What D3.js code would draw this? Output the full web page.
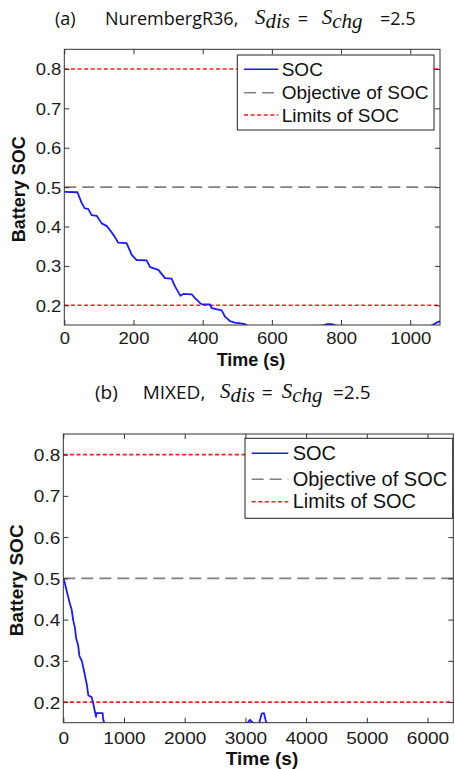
<!DOCTYPE html>
<html>
<head>
<meta charset="utf-8">
<script src="https://cdn.jsdelivr.net/npm/d3@7"></script>
<style>
  html, body { margin: 0; padding: 0; background: #fff; }
  svg { display: block; }
</style>
</head>
<body>
<svg id="chart" width="455" height="769"></svg>
<script>
// ---- data ----
const socA_t = [0, 38, 50, 59, 69, 79, 94, 108, 123, 132, 145, 156, 180, 195, 209, 238, 248, 272, 291, 310, 320, 336, 344, 368, 378, 392, 397, 421, 426, 445, 455, 464, 479, 493, 519, 530, 600, 700, 750, 758, 773, 790, 900, 1000, 1060, 1068, 1081, 1086];
const socA_v = [0.488, 0.487, 0.46, 0.446, 0.445, 0.429, 0.427, 0.408, 0.401, 0.391, 0.375, 0.359, 0.358, 0.328, 0.315, 0.314, 0.297, 0.290, 0.269, 0.268, 0.248, 0.224, 0.229, 0.228, 0.218, 0.206, 0.203, 0.202, 0.193, 0.189, 0.187, 0.172, 0.160, 0.156, 0.153, 0.148, 0.142, 0.145, 0.149, 0.152, 0.152, 0.147, 0.140, 0.142, 0.148, 0.152, 0.158, 0.159];

const socB_t = [0, 12, 55, 82, 110, 137, 165, 192, 209, 220, 231, 247, 264, 286, 303, 341, 385, 395, 412, 440, 467, 494, 522, 539, 545, 560, 649, 655, 676, 700, 1000, 2000, 2900, 3000, 3048, 3076, 3120, 3200, 3229, 3268, 3306, 3340, 3400, 4000, 5000, 6000, 6425];
const socB_v = [0.498, 0.496, 0.470, 0.454, 0.438, 0.425, 0.397, 0.380, 0.357, 0.350, 0.345, 0.335, 0.313, 0.305, 0.301, 0.276, 0.244, 0.235, 0.216, 0.214, 0.212, 0.196, 0.176, 0.164, 0.173, 0.173, 0.173, 0.160, 0.148, 0.140, 0.130, 0.130, 0.140, 0.146, 0.152, 0.157, 0.150, 0.146, 0.150, 0.172, 0.173, 0.152, 0.140, 0.130, 0.130, 0.130, 0.130];

const socObjective = 0.5;
const socLimits = [0.2, 0.8];
const yTicks = [0.2, 0.3, 0.4, 0.5, 0.6, 0.7, 0.8];
const xTicksA = [0, 200, 400, 600, 800, 1000];
const xTicksB = [0, 1000, 2000, 3000, 4000, 5000, 6000];
const legendLabels = ["SOC", "Objective of SOC", "Limits of SOC"];

const svg = d3.select("#chart");
const HS = 1.12; // horizontal stretch of tick labels as seen in the reference

const panels = [
  { id: "a", t: socA_t, v: socA_v, xMax: 1086, xTicks: xTicksA,
    box: { l: 64.3, r: 440, t: 49.3, b: 325 },
    tickFont: 16.5, labelFont: 18, yLabelX: 24.5, xLabelX: 251, xLabelY: 366, tickBase: 19.5,
    legend: { x: 237.3, y: 55, w: 196.7, h: 75, rows: [69.3, 92.7, 115], s0: 244, s1: 278.3, tx: 281.7, font: 19 },
    title: { y: 25, font: 18, p: "(a)", px: 55, name: "NurembergR36,", nx: 105, s1: 255, eq: 297.7, s2: 321.7, val: 380 } },
  { id: "b", t: socB_t, v: socB_v, xMax: 6425, xTicks: xTicksB,
    box: { l: 63.3, r: 453.3, t: 434, b: 722.7 },
    tickFont: 17, labelFont: 19, yLabelX: 22.5, xLabelX: 262, xLabelY: 765, tickBase: 21,
    legend: { x: 245, y: 438.3, w: 207.7, h: 80, rows: [453.3, 479.3, 501.7], s0: 251.7, s1: 288.3, tx: 292.7, font: 20 },
    title: { y: 399, font: 19, p: "(b)", px: 95, name: "MIXED,", nx: 142.7, s1: 220, eq: 261.7, s2: 281.7, val: 333 } }
];

panels.forEach(P => {
  const B = P.box;
  const x = d3.scaleLinear().domain([0, P.xMax]).range([B.l, B.r]);
  const y = d3.scaleLinear().domain([0.15, 0.85]).range([B.b, B.t]);
  const g = svg.append("g");

  g.append("clipPath").attr("id", "clip-" + P.id)
    .append("rect").attr("x", B.l).attr("y", B.t).attr("width", B.r - B.l).attr("height", B.b - B.t);

  const plot = g.append("g").attr("clip-path", `url(#clip-${P.id})`);

  // limit lines
  socLimits.forEach(L => {
    plot.append("line").attr("x1", B.l).attr("x2", B.r).attr("y1", y(L)).attr("y2", y(L))
      .attr("stroke", "#ff1a1a").attr("stroke-width", 1.6).attr("stroke-dasharray", "4,2.6");
  });
  // objective
  plot.append("line").attr("x1", B.l).attr("x2", B.r).attr("y1", y(socObjective)).attr("y2", y(socObjective))
    .attr("stroke", "#808080").attr("stroke-width", 1.6).attr("stroke-dasharray", "12,6");

  // SOC line
  const pts = P.t.map((t, i) => [t, P.v[i]]);
  plot.append("path").datum(pts)
    .attr("fill", "none").attr("stroke", "#1a1aff").attr("stroke-width", 1.8)
    .attr("stroke-linejoin", "round")
    .attr("d", d3.line().x(d => x(d[0])).y(d => y(d[1])));

  // axes (inner ticks, box)
  const tickColor = "#333";
  const xAxis = g.append("g").attr("transform", `translate(0,${B.b})`)
    .call(d3.axisBottom(x).tickValues(P.xTicks).tickSize(-5).tickPadding(0).tickFormat(d3.format("d")));
  xAxis.selectAll("text").attr("y", P.tickBase / 1).attr("dy", 0)
    .attr("transform", `scale(${HS},1)`)
    .style("font-family", "Liberation Sans, Arial, sans-serif").style("font-size", P.tickFont + "px").attr("fill", "#1a1a1a");
  const xAxisTop = g.append("g").attr("transform", `translate(0,${B.t})`)
    .call(d3.axisTop(x).tickValues(P.xTicks).tickSize(-5).tickFormat(""));
  const yAxis = g.append("g").attr("transform", `translate(${B.l},0)`)
    .call(d3.axisLeft(y).tickValues(yTicks).tickSize(-5).tickPadding(0).tickFormat(d3.format(".1f")));
  yAxis.selectAll("text").attr("x", -3 / HS).attr("dy", "0.36em")
    .attr("transform", `scale(${HS},1)`)
    .style("font-family", "Liberation Sans, Arial, sans-serif").style("font-size", P.tickFont + "px").attr("fill", "#1a1a1a");
  const yAxisR = g.append("g").attr("transform", `translate(${B.r},0)`)
    .call(d3.axisRight(y).tickValues(yTicks).tickSize(-5).tickFormat(""));
  [xAxis, xAxisTop, yAxis, yAxisR].forEach(a => {
    a.select(".domain").remove();
    a.selectAll(".tick line").attr("stroke", tickColor);
  });
  g.append("rect").attr("x", B.l).attr("y", B.t).attr("width", B.r - B.l).attr("height", B.b - B.t)
    .attr("fill", "none").attr("stroke", "#333").attr("stroke-width", 1);

  // axis labels
  g.append("text").attr("x", P.xLabelX).attr("y", P.xLabelY).attr("text-anchor", "middle")
    .style("font-family", "Liberation Sans, Arial, sans-serif").style("font-weight", "bold")
    .style("font-size", P.labelFont + "px").attr("fill", "#111").text("Time (s)");
  g.append("text").attr("transform", `translate(${P.yLabelX},${(B.t + B.b) / 2 + 2}) rotate(-90)`)
    .attr("text-anchor", "middle")
    .style("font-family", "Liberation Sans, Arial, sans-serif").style("font-weight", "bold")
    .style("font-size", P.labelFont + "px").attr("fill", "#111").text("Battery SOC");

  // legend
  const Lg = P.legend;
  const leg = g.append("g");
  leg.append("rect").attr("x", Lg.x).attr("y", Lg.y).attr("width", Lg.w).attr("height", Lg.h)
    .attr("fill", "#fff").attr("stroke", "#222").attr("stroke-width", 1);
  const styles = [
    { c: "#1a1aff", d: null, w: 1.5 },
    { c: "#808080", d: "12,6", w: 1.5 },
    { c: "#ff1a1a", d: "4,2.6", w: 1.5 }
  ];
  legendLabels.forEach((lab, i) => {
    const ry = Lg.rows[i];
    const ln = leg.append("line").attr("x1", Lg.s0).attr("x2", Lg.s1).attr("y1", ry).attr("y2", ry)
      .attr("stroke", styles[i].c).attr("stroke-width", styles[i].w);
    if (styles[i].d) ln.attr("stroke-dasharray", styles[i].d);
    leg.append("text").attr("x", Lg.tx).attr("y", ry + 6.5)
      .style("font-family", "Liberation Sans, Arial, sans-serif").style("font-size", Lg.font + "px")
      .attr("fill", "#111").text(lab);
  });

  // title
  const T = P.title;
  const sans = "Open Sans, sans-serif";
  const serif = "Liberation Serif, Times New Roman, serif";
  g.append("text").attr("x", T.px).attr("y", T.y).style("font-family", sans).style("font-size", T.font + "px").attr("fill", "#111").text(T.p);
  g.append("text").attr("x", T.nx).attr("y", T.y).style("font-family", sans).style("font-size", T.font + "px").attr("fill", "#111").text(T.name);
  const s1 = g.append("text").attr("x", T.s1).attr("y", T.y - 1).style("font-family", serif).style("font-style", "italic").style("font-size", "21px").attr("fill", "#111");
  s1.append("tspan").text("S");
  s1.append("tspan").attr("dy", 4).style("font-size", "21px").text("dis");
  g.append("text").attr("x", T.eq).attr("y", T.y).style("font-family", sans).style("font-size", T.font + "px").attr("fill", "#111").text("=");
  const s2 = g.append("text").attr("x", T.s2).attr("y", T.y - 1).style("font-family", serif).style("font-style", "italic").style("font-size", "21px").attr("fill", "#111");
  s2.append("tspan").text("S");
  s2.append("tspan").attr("dy", 4).style("font-size", "21px").text("chg");
  g.append("text").attr("x", T.val).attr("y", T.y).style("font-family", sans).style("font-size", T.font + "px").attr("fill", "#111").text("=2.5");
});
</script>
</body>
</html>
